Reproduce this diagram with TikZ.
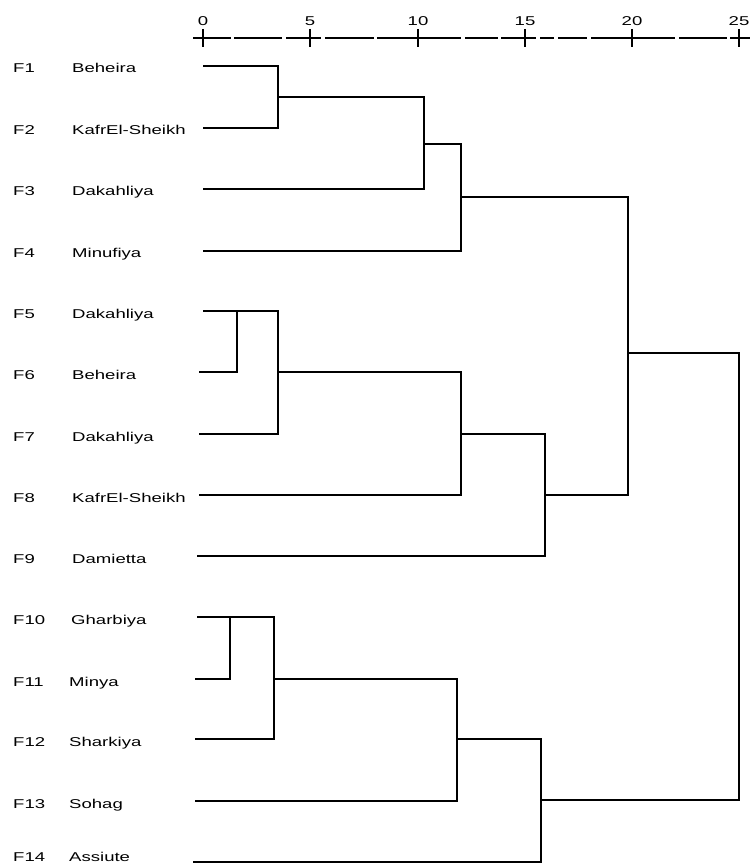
\documentclass[tikz,border=0pt]{standalone}
\usepackage{fontspec}
\setmainfont{Liberation Sans}[FakeStretch=1.45]
\begin{document}
\begin{tikzpicture}[x=1pt,y=-1pt,
  link/.style={line width=1.3pt,line join=miter},
  lbl/.style={anchor=base west,inner sep=0pt,font=\fontsize{12.8}{15}\selectfont},
  num/.style={anchor=base,inner sep=0pt,font=\fontsize{12.8}{15}\selectfont},
  axisln/.style={line width=1.3pt}]
\useasboundingbox (0,0) rectangle (750,866);
% axis
\foreach \a/\b in {193/231,234/282,286/321,325/374,377/461,465/498,501/536,540/554,558/587,591/675,679/727,730/750}
  \draw[axisln] (\a,38) -- (\b,38);
\foreach \v/\x in {0/203,5/310,10/418,15/525,20/632,25/739}{
  \draw[axisln] (\x,29) -- (\x,47);
  \node[num] (t\v) at (\x,26) {\v};
}
% labels
\foreach \i/\y/\nx/\name in {1/73/72/Beheira,2/135/72/KafrEl-Sheikh,3/196/72/Dakahliya,4/258/72/Minufiya,5/318/72/Dakahliya,6/379/72/Beheira,7/441/72/Dakahliya,8/502/72/KafrEl-Sheikh,9/563/72/Damietta,10/624/71/Gharbiya,11/686/69/Minya,12/746/69/Sharkiya,13/808/69/Sohag,14/861/69/Assiute}{
  \node[lbl] (code\i) at (13,\y) {F\i};
  \node[lbl] (name\i) at (\nx,\y) {\name};
}
% leaf ends
\coordinate (l1) at (203,66);
\coordinate (l2) at (203,128);
\coordinate (l3) at (203,189);
\coordinate (l4) at (203,251);
\coordinate (l5) at (203,311);
\coordinate (l6) at (199,372);
\coordinate (l7) at (199,434);
\coordinate (l8) at (199,495);
\coordinate (l9) at (197,556);
\coordinate (l10) at (197,617);
\coordinate (l11) at (195,679);
\coordinate (l12) at (195,739);
\coordinate (l13) at (195,801);
\coordinate (l14) at (193,862);
% merge points
\coordinate (ma) at (278,97);
\coordinate (mb) at (424,144);
\coordinate (mc) at (461,197);
\coordinate (md) at (237,311);
\coordinate (me) at (278,372);
\coordinate (mf) at (461,434);
\coordinate (mg) at (545,495);
\coordinate (mh) at (628,353);
\coordinate (mi) at (230,617);
\coordinate (mj) at (274,679);
\coordinate (mk) at (457,739);
\coordinate (ml) at (541,800);
\coordinate (mm) at (739,576);
% links
\draw[link] (l1) -| (ma) |- (l2);
\draw[link] (ma) -| (mb) |- (l3);
\draw[link] (mb) -| (mc) |- (l4);
\draw[link] (l6) -| (md);
\draw[link] (l5) -| (me) |- (l7);
\draw[link] (me) -| (mf) |- (l8);
\draw[link] (mf) -| (mg) |- (l9);
\draw[link] (mc) -| (mh) |- (mg);
\draw[link] (l11) -| (mi);
\draw[link] (l10) -| (mj) |- (l12);
\draw[link] (mj) -| (mk) |- (l13);
\draw[link] (mk) -| (ml) |- (l14);
\draw[link] (mh) -| (mm) |- (ml);
\end{tikzpicture}
\end{document}
